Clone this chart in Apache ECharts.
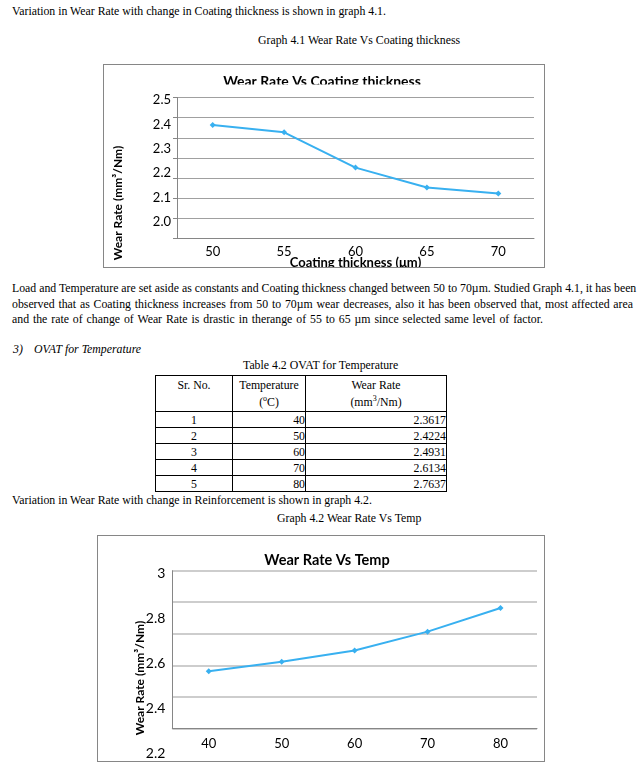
<!DOCTYPE html>
<html>
<head>
<meta charset="utf-8">
<script src="https://cdn.jsdelivr.net/npm/echarts@6/dist/echarts.min.js"></script>
<style>
  html, body { margin:0; padding:0; background:#fff; }
  body { width:640px; height:775px; position:relative; overflow:hidden;
         font-family:'Liberation Serif','Times New Roman',serif; font-size:11.8px; color:#000; }
  .t { position:absolute; line-height:14px; white-space:nowrap; }
  .j { position:absolute; line-height:14px; white-space:nowrap; }
  .box { position:absolute; border:1px solid #868686; background:#fff; }
  .chart { position:absolute; left:0; top:0; }
  table { position:absolute; border-collapse:collapse; font-size:11.8px; }
  td { border:1px solid #000; padding:0; line-height:14px; height:15px; }
  td.h { text-align:center; vertical-align:top; line-height:17px; height:34px; padding-top:1px; }
  td.c { text-align:center; }
  td.r { text-align:right; }
  sup { font-size:8px; line-height:0; vertical-align:5px; }
</style>
</head>
<body>
<div class="t" style="left:12px;top:4px;">Variation in Wear Rate with change in Coating thickness is shown in graph 4.1.</div>
<div class="t" style="left:258px;top:33px;">Graph 4.1 Wear Rate Vs Coating thickness</div>

<div class="box" style="left:103px;top:64px;width:440px;height:202px;">
  <div id="c1" class="chart" style="width:440px;height:202px;"></div>
</div>

<div class="j" data-w="621" style="left:12px;top:281px;">Load and Temperature are set aside as constants and Coating thickness changed between 50 to 70µm. Studied Graph 4.1, it has been</div>
<div class="j" data-w="621" style="left:12px;top:296.5px;">observed that as Coating thickness increases from 50 to 70µm wear decreases, also it has been observed that, most affected area</div>
<div class="j" data-w="531" style="left:12px;top:312px;">and the rate of change of Wear Rate is drastic in therange of 55 to 65 µm since selected same level of factor.</div>

<div class="t" style="left:13px;top:342px;font-style:italic;">3)</div>
<div class="t" style="left:34px;top:342px;font-style:italic;">OVAT for Temperature</div>

<div class="t" style="left:243px;top:358px;">Table 4.2 OVAT for Temperature</div>
<table id="tbl" style="left:155px;top:375px;width:292px;"></table>

<div class="t" style="left:12px;top:493px;">Variation in Wear Rate with change in Reinforcement is shown in graph 4.2.</div>
<div class="t" style="left:277px;top:511px;">Graph 4.2 Wear Rate Vs Temp</div>

<div class="box" style="left:97px;top:535px;width:446px;height:225px;">
  <div id="c2" class="chart" style="width:446px;height:225px;"></div>
</div>

<script>
// ---- data ----
const thicknessCats = ['50', '55', '60', '65', '70'];
const thicknessWear = [2.363, 2.327, 2.152, 2.053, 2.023];

const srNo = [1, 2, 3, 4, 5];
const tempCats = ['40', '50', '60', '70', '80'];
const tempWear = [2.3617, 2.4224, 2.4931, 2.6134, 2.7637];

// ---- justified paragraph lines ----
document.querySelectorAll('.j').forEach(function (el) {
  const W = parseFloat(el.dataset.w);
  const nat = el.getBoundingClientRect().width;
  const n = (el.textContent.match(/ /g) || []).length;
  if (n > 0 && W > nat) el.style.wordSpacing = ((W - nat) / n) + 'px';
});

// ---- table ----
(function () {
  const t = document.getElementById('tbl');
  let html = '<tr><td class="h" style="width:76px;">Sr. No.</td>' +
             '<td class="h" style="width:72px;">Temperature<br>(<sup>o</sup>C)</td>' +
             '<td class="h">Wear Rate<br>(mm<sup>3</sup>/Nm)</td></tr>';
  for (let i = 0; i < srNo.length; i++) {
    html += '<tr><td class="c">' + srNo[i] + '</td><td class="r">' + tempCats[i] +
            '</td><td class="r">' + tempWear[i].toFixed(4) + '</td></tr>';
  }
  t.innerHTML = html;
})();

const FONT = 'Lato';
const LINE = '#38B0F0';
const AX = '#868686';

// ---- chart 1 ----
const c1 = echarts.init(document.getElementById('c1'));
c1.setOption({
  animation: false,
  title: {
    text: 'Wear Rate Vs Coating thickness', left: 213, top: 4, textAlign: 'center',
    textStyle: { fontFamily: FONT, fontWeight: 'bold', fontSize: 14, color: '#000' }
  },
  grid: [
    { left: 73, right: 10, top: 32.5, height: 141, containLabel: false, outerBoundsMode: 'none' },
    { left: 73, right: 10, top: 35, height: 122, containLabel: false, outerBoundsMode: 'none' }
  ],
  xAxis: [
    { type: 'category', gridIndex: 0, data: thicknessCats,
      axisLine: { lineStyle: { color: AX } }, axisTick: { show: false },
      axisLabel: { margin: 7, fontFamily: FONT, fontSize: 13, color: '#000' },
      name: 'Coating thickness (μm)', nameLocation: 'middle', nameGap: 18, nameMoveOverlap: false,
      nameTextStyle: { fontFamily: FONT, fontWeight: 'bold', fontSize: 13, color: '#000' } },
    { type: 'category', gridIndex: 1, data: thicknessCats, show: false }
  ],
  yAxis: [
    { type: 'value', gridIndex: 0, min: 1.8, max: 2.5, interval: 0.1,
      axisLine: { show: true, lineStyle: { color: AX } },
      axisTick: { show: true, length: 4, lineStyle: { color: AX } },
      axisLabel: { show: false },
      splitLine: { lineStyle: { color: '#a0a0a0', width: 1 } } },
    { type: 'value', gridIndex: 1, min: 2.0, max: 2.5, interval: 0.1,
      axisLine: { show: false }, axisTick: { show: false }, splitLine: { show: false },
      axisLabel: { margin: 6, fontFamily: FONT, fontSize: 13, color: '#000',
                   formatter: v => v.toFixed(1) } }
  ],
  graphic: [
    { type: 'rect', z: 100, shape: { x: 90, y: 19.5, width: 260, height: 9 },
      style: { fill: '#fff' } },
    { type: 'text', x: 14, y: 138, rotation: Math.PI / 2,
      style: { text: 'Wear Rate (mm³/Nm)', fontFamily: FONT, fontWeight: 'bold', fontSize: 12,
               fill: '#000', textAlign: 'center', textVerticalAlign: 'middle' } }
  ],
  series: [{
    type: 'line', xAxisIndex: 0, yAxisIndex: 0, data: thicknessWear,
    symbol: 'diamond', symbolSize: 6,
    lineStyle: { color: LINE, width: 2 }, itemStyle: { color: LINE }
  }]
});

// ---- chart 2 ----
const c2 = echarts.init(document.getElementById('c2'));
c2.setOption({
  animation: false,
  title: {
    text: 'Wear Rate Vs Temp', left: 224, top: 12, textAlign: 'center',
    textStyle: { fontFamily: FONT, fontWeight: 'bold', fontSize: 14.5, color: '#000' }
  },
  grid: [
    { left: 74.3, right: 7, top: 34.7, height: 157.6, containLabel: false, outerBoundsMode: 'none' },
    { left: 74.3, right: 7, top: 37, height: 180, containLabel: false, outerBoundsMode: 'none' }
  ],
  xAxis: [
    { type: 'category', gridIndex: 0, data: tempCats,
      axisLine: { lineStyle: { color: AX } }, axisTick: { show: false },
      axisLabel: { margin: 9, fontFamily: FONT, fontSize: 13, color: '#000' } },
    { type: 'category', gridIndex: 1, data: tempCats, show: false }
  ],
  yAxis: [
    { type: 'value', gridIndex: 0, min: 2.0, max: 3.0, interval: 0.2,
      axisLine: { show: true, lineStyle: { color: AX } },
      axisTick: { show: false }, axisLabel: { show: false },
      splitLine: { lineStyle: { color: '#bdbdbd', width: 1.5 } } },
    { type: 'value', gridIndex: 1, min: 2.2, max: 3.0, interval: 0.2,
      axisLine: { show: false }, axisTick: { show: false }, splitLine: { show: false },
      axisLabel: { margin: 7, fontFamily: FONT, fontSize: 14, color: '#000',
                   formatter: v => (Math.abs(v - 3) < 1e-9 ? '3' : v.toFixed(1)) } }
  ],
  graphic: [
    { type: 'text', x: 42, y: 142, rotation: Math.PI / 2,
      style: { text: 'Wear Rate (mm³/Nm)', fontFamily: FONT, fontWeight: 'bold', fontSize: 12,
               fill: '#000', textAlign: 'center', textVerticalAlign: 'middle' } }
  ],
  series: [{
    type: 'line', xAxisIndex: 0, yAxisIndex: 0, data: tempWear,
    symbol: 'diamond', symbolSize: 6,
    lineStyle: { color: LINE, width: 2 }, itemStyle: { color: LINE }
  }]
});
</script>
</body>
</html>
